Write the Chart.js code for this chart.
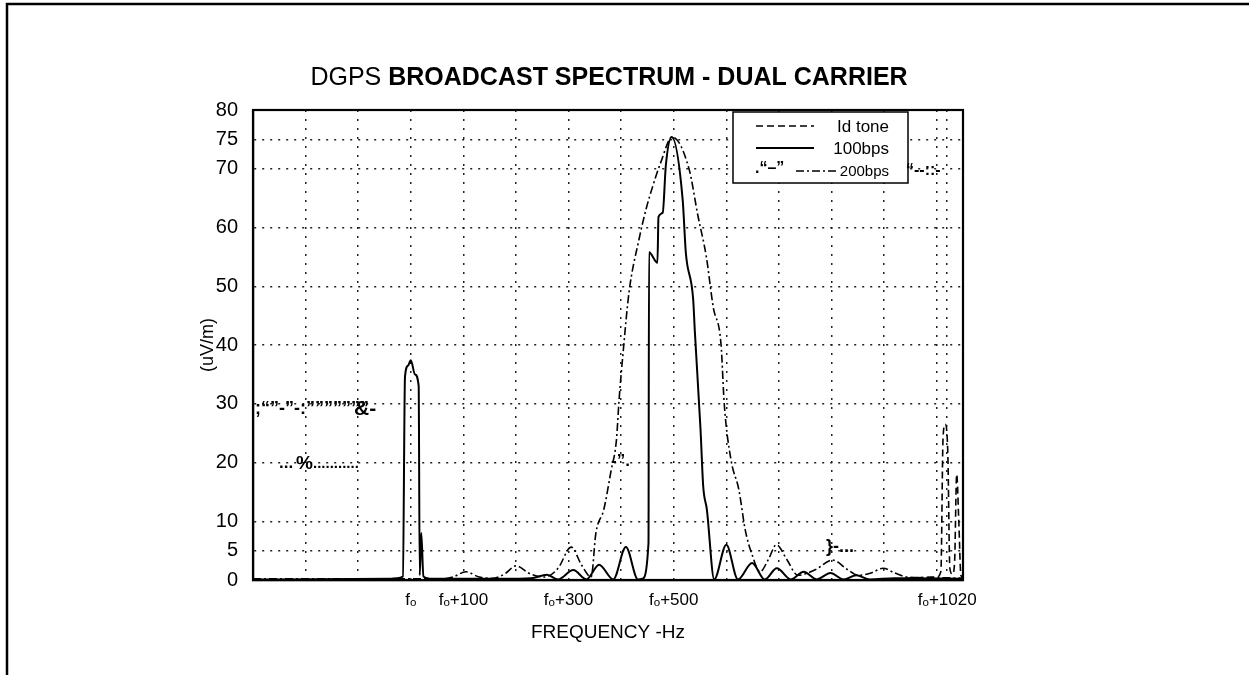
<!DOCTYPE html>
<html lang="en">
<head>
<meta charset="utf-8">
<title>DGPS broadcast spectrum - dual carrier</title>
<script src="https://cdn.jsdelivr.net/npm/chart.js"></script>
<style>
    html, body {
        margin: 0;
        padding: 0;
        background: #fff;
        overflow: hidden;
    }
</style>
</head>
<body>

<canvas id="myChart" width="1249" height="675"></canvas>

<script>
    // frequency is the offset from the carrier f0 in Hz, level in uV/m
    const toneHz  = [940, 1000, 1008, 1012, 1016, 1021, 1025, 1030, 1034, 1038, 1042, 1046, 1050];
    const toneVal = [0.3, 0.5, 1.5, 24, 26.5, 22, 2, 1, 3, 18, 10, 0.8, 0.4];

    const bps100Hz  = [-300, -40, -26, -15, -11, -5, 0, 8, 15, 17, 20, 24, 41, 175, 229, 259, 280, 309, 334, 358,
                       385, 409, 432, 440, 452, 453, 469, 471, 479, 485, 496, 517, 523, 537, 540, 551, 556, 563,
                       577, 600, 622, 649, 673, 696, 723, 747, 772, 798, 823, 847, 873, 920, 1050];
    const bps100Val = [0.1, 0.2, 0.3, 0.6, 34.6, 36.5, 37.4, 35, 33, 0.8, 8, 0.6, 0.2, 0.2, 0.3, 0.9, 0.1, 1.7, 0.1, 2.6,
                       0.1, 5.6, 0.1, 0.2, 6.3, 55.8, 54, 61.8, 62.5, 70.6, 75.4, 64.7, 55.7, 47.7, 42.5, 25.5, 16, 12,
                       0.1, 6.0, 0.1, 2.9, 0.1, 2.0, 0.1, 1.4, 0.1, 1.2, 0.1, 0.8, 0.1, 0.3, 0.2];

    const bps200Hz  = [-300, 20, 60, 80, 105, 130, 155, 178, 200, 228, 255, 280, 305, 325, 343, 352, 367, 381, 391, 396,
                       404, 415, 434, 447, 460, 475, 497, 529, 546, 562, 575, 590, 596, 609, 624, 636, 649, 664, 680,
                       695, 715, 736, 770, 802, 830, 851, 875, 898, 920, 944, 1000, 1050];
    const bps200Val = [0.2, 0.2, 0.2, 0.5, 1.4, 0.5, 0.3, 1.0, 2.4, 1.0, 0.5, 2.0, 5.6, 2.5, 0.5, 8, 12, 18.7, 23.8, 30.6,
                       39, 49, 58, 63, 67, 71, 75.4, 70, 62, 55, 46.5, 40, 30, 20.4, 15.3, 8.5, 4.3, 1.4, 3.5,
                       6.0, 3.5, 0.8, 1.8, 3.4, 1.8, 0.8, 1.2, 2.0, 1.2, 0.5, 0.4, 0.3];

    const yTicks      = [0, 5, 10, 20, 30, 40, 50, 60, 70, 75, 80];
    const yTickLabels = ['0', '5', '10', '20', '30', '40', '50', '60', '70', '75', '80'];

    const xGridHz     = [-200, -100, 0, 100, 200, 300, 400, 500, 600, 700, 800, 900, 1000, 1020];
    const xLabelHz    = [0, 100, 300, 500, 1020];
    const xLabelText  = ['f\u2092', 'f\u2092+100', 'f\u2092+300', 'f\u2092+500', 'f\u2092+1020'];

    const seriesNames = ['Id tone', '100bps', '200bps'];

    const FONT = '"Liberation Sans", Arial, sans-serif';

    function toPoints(xs, ys) {
        return xs.map((x, i) => ({x: x, y: ys[i]}));
    }

    // page frame, plot box, title, legend and the scan marks
    const decor = {
        id: 'decor',
        beforeDraw(chart) {
            const ctx = chart.ctx;
            ctx.save();
            ctx.fillStyle = '#fff';
            ctx.fillRect(0, 0, chart.width, chart.height);
            ctx.strokeStyle = '#000';
            ctx.lineWidth = 2.5;
            ctx.beginPath();
            ctx.moveTo(7, 675);
            ctx.lineTo(7, 4);
            ctx.lineTo(1249, 4);
            ctx.stroke();
            ctx.restore();
        },
        afterDatasetsDraw(chart) {
            const ctx = chart.ctx;
            const a = chart.chartArea;
            ctx.save();
            ctx.strokeStyle = '#000';
            ctx.lineWidth = 2.2;
            ctx.strokeRect(a.left, a.top, a.right - a.left, a.bottom - a.top);

            // legend box
            const bx = 733, by = 112, bw = 175, bh = 71;
            ctx.fillStyle = '#fff';
            ctx.fillRect(bx, by, bw, bh);
            ctx.lineWidth = 1.5;
            ctx.strokeRect(bx, by, bw, bh);
            const rows = [126, 148, 171];
            const sets = chart.data.datasets;
            ctx.textBaseline = 'middle';
            ctx.textAlign = 'right';
            sets.forEach((ds, i) => {
                ctx.save();
                ctx.strokeStyle = ds.borderColor;
                ctx.lineWidth = ds.borderWidth;
                ctx.setLineDash(ds.borderDash || []);
                ctx.beginPath();
                if (i === 2) {
                    ctx.moveTo(796, rows[i]);
                    ctx.lineTo(836, rows[i]);
                } else {
                    ctx.moveTo(756, rows[i]);
                    ctx.lineTo(814, rows[i]);
                }
                ctx.stroke();
                ctx.restore();
                ctx.fillStyle = '#000';
                ctx.font = (i === 2 ? '15px ' : '17px ') + FONT;
                ctx.fillText(ds.label, 889, rows[i] + 1);
            });
            ctx.textAlign = 'left';
            ctx.font = 'bold 16px ' + FONT;
            ctx.fillText('.\u201C\u2013\u201D', 755, rows[2] - 2);
            ctx.restore();
        },
        afterDraw(chart) {
            const ctx = chart.ctx;
            ctx.save();
            ctx.fillStyle = '#000';
            ctx.textBaseline = 'alphabetic';

            // title, first word in normal weight
            const t1 = 'DGPS ';
            const t2 = 'BROADCAST SPECTRUM - DUAL CARRIER';
            ctx.font = '25px ' + FONT;
            const w1 = ctx.measureText(t1).width;
            ctx.font = 'bold 25px ' + FONT;
            const w2 = ctx.measureText(t2).width;
            const x0 = 609 - (w1 + w2) / 2;
            ctx.font = '25px ' + FONT;
            ctx.fillText(t1, x0, 85);
            ctx.font = 'bold 25px ' + FONT;
            ctx.fillText(t2, x0 + w1, 85);

            // stray marks of the scanned original
            ctx.font = 'bold 18px ' + FONT;
            ctx.fillText(';\u201C\u201D-\u201D-:\u201D\u201D\u201D\u201D\u201D\u201D\u201D', 255, 414);
            ctx.font = 'bold 21px ' + FONT;
            ctx.fillText('&-', 354, 415);
            ctx.font = 'bold 17px ' + FONT;
            ctx.fillText('...', 279, 468);
            ctx.font = 'bold 19px ' + FONT;
            ctx.fillText('%', 296, 469);
            ctx.font = 'bold 15px ' + FONT;
            ctx.fillText('...........', 313, 468);
            ctx.font = 'bold 16px ' + FONT;
            ctx.fillText('\u201C--::-', 906, 175);
            ctx.font = 'bold 18px ' + FONT;
            ctx.fillText('}-...', 826, 552);
            ctx.font = 'bold 17px ' + FONT;
            ctx.fillText('-\u201D.', 611, 466);
            ctx.restore();
        }
    };

    const data = {
        datasets: [{
            label: seriesNames[0],
            data: toPoints(toneHz, toneVal),
            borderColor: '#000',
            borderWidth: 1.6,
            borderDash: [7, 4],
            showLine: true,
            pointRadius: 0,
            cubicInterpolationMode: 'monotone'
        },
        {
            label: seriesNames[1],
            data: toPoints(bps100Hz, bps100Val),
            borderColor: '#000',
            borderWidth: 2,
            showLine: true,
            pointRadius: 0,
            cubicInterpolationMode: 'monotone'
        },
        {
            label: seriesNames[2],
            data: toPoints(bps200Hz, bps200Val),
            borderColor: '#000',
            borderWidth: 1.6,
            borderDash: [8, 3, 2, 3],
            showLine: true,
            pointRadius: 0,
            cubicInterpolationMode: 'monotone'
        }]
    };

    const config = {
        type: 'scatter',
        data: data,
        plugins: [decor],
        options: {
            responsive: false,
            animation: false,
            layout: {
                padding: {left: 197, top: 110, right: 286, bottom: 0}
            },
            plugins: {
                legend: {display: false},
                title: {display: false},
                tooltip: {enabled: false}
            },
            scales: {
                x: {
                    type: 'linear',
                    min: -300,
                    max: 1050,
                    afterFit: function (scale) { scale.height = 95; },
                    afterBuildTicks: function (scale) {
                        scale.ticks = xGridHz.map(v => ({value: v}));
                    },
                    grid: {color: '#222', lineWidth: 1.5, drawTicks: false},
                    border: {display: true, color: '#000', width: 2.2, dash: [2, 7]},
                    ticks: {
                        autoSkip: false,
                        maxRotation: 0,
                        padding: 10,
                        color: '#000',
                        font: {family: FONT, size: 17},
                        callback: function (value) {
                            const i = xLabelHz.indexOf(value);
                            return i >= 0 ? xLabelText[i] : '';
                        }
                    },
                    title: {
                        display: true,
                        text: 'FREQUENCY -Hz',
                        color: '#000',
                        font: {family: FONT, size: 19},
                        padding: {top: 0, bottom: 31}
                    }
                },
                y: {
                    type: 'linear',
                    min: 0,
                    max: 80,
                    afterFit: function (scale) { scale.width = 56; },
                    afterBuildTicks: function (scale) {
                        scale.ticks = yTicks.map(v => ({value: v}));
                    },
                    grid: {color: '#222', lineWidth: 1.5, drawTicks: false},
                    border: {display: true, color: '#000', width: 2.2, dash: [2, 6]},
                    ticks: {
                        padding: 15,
                        color: '#000',
                        font: {family: FONT, size: 20},
                        callback: function (value) {
                            return yTickLabels[yTicks.indexOf(value)];
                        }
                    },
                    title: {
                        display: true,
                        text: '(uV/m)',
                        color: '#000',
                        font: {family: FONT, size: 18},
                        padding: 0
                    }
                }
            }
        }
    };

    const myChart = new Chart(document.getElementById('myChart'), config);
</script>

</body>
</html>
